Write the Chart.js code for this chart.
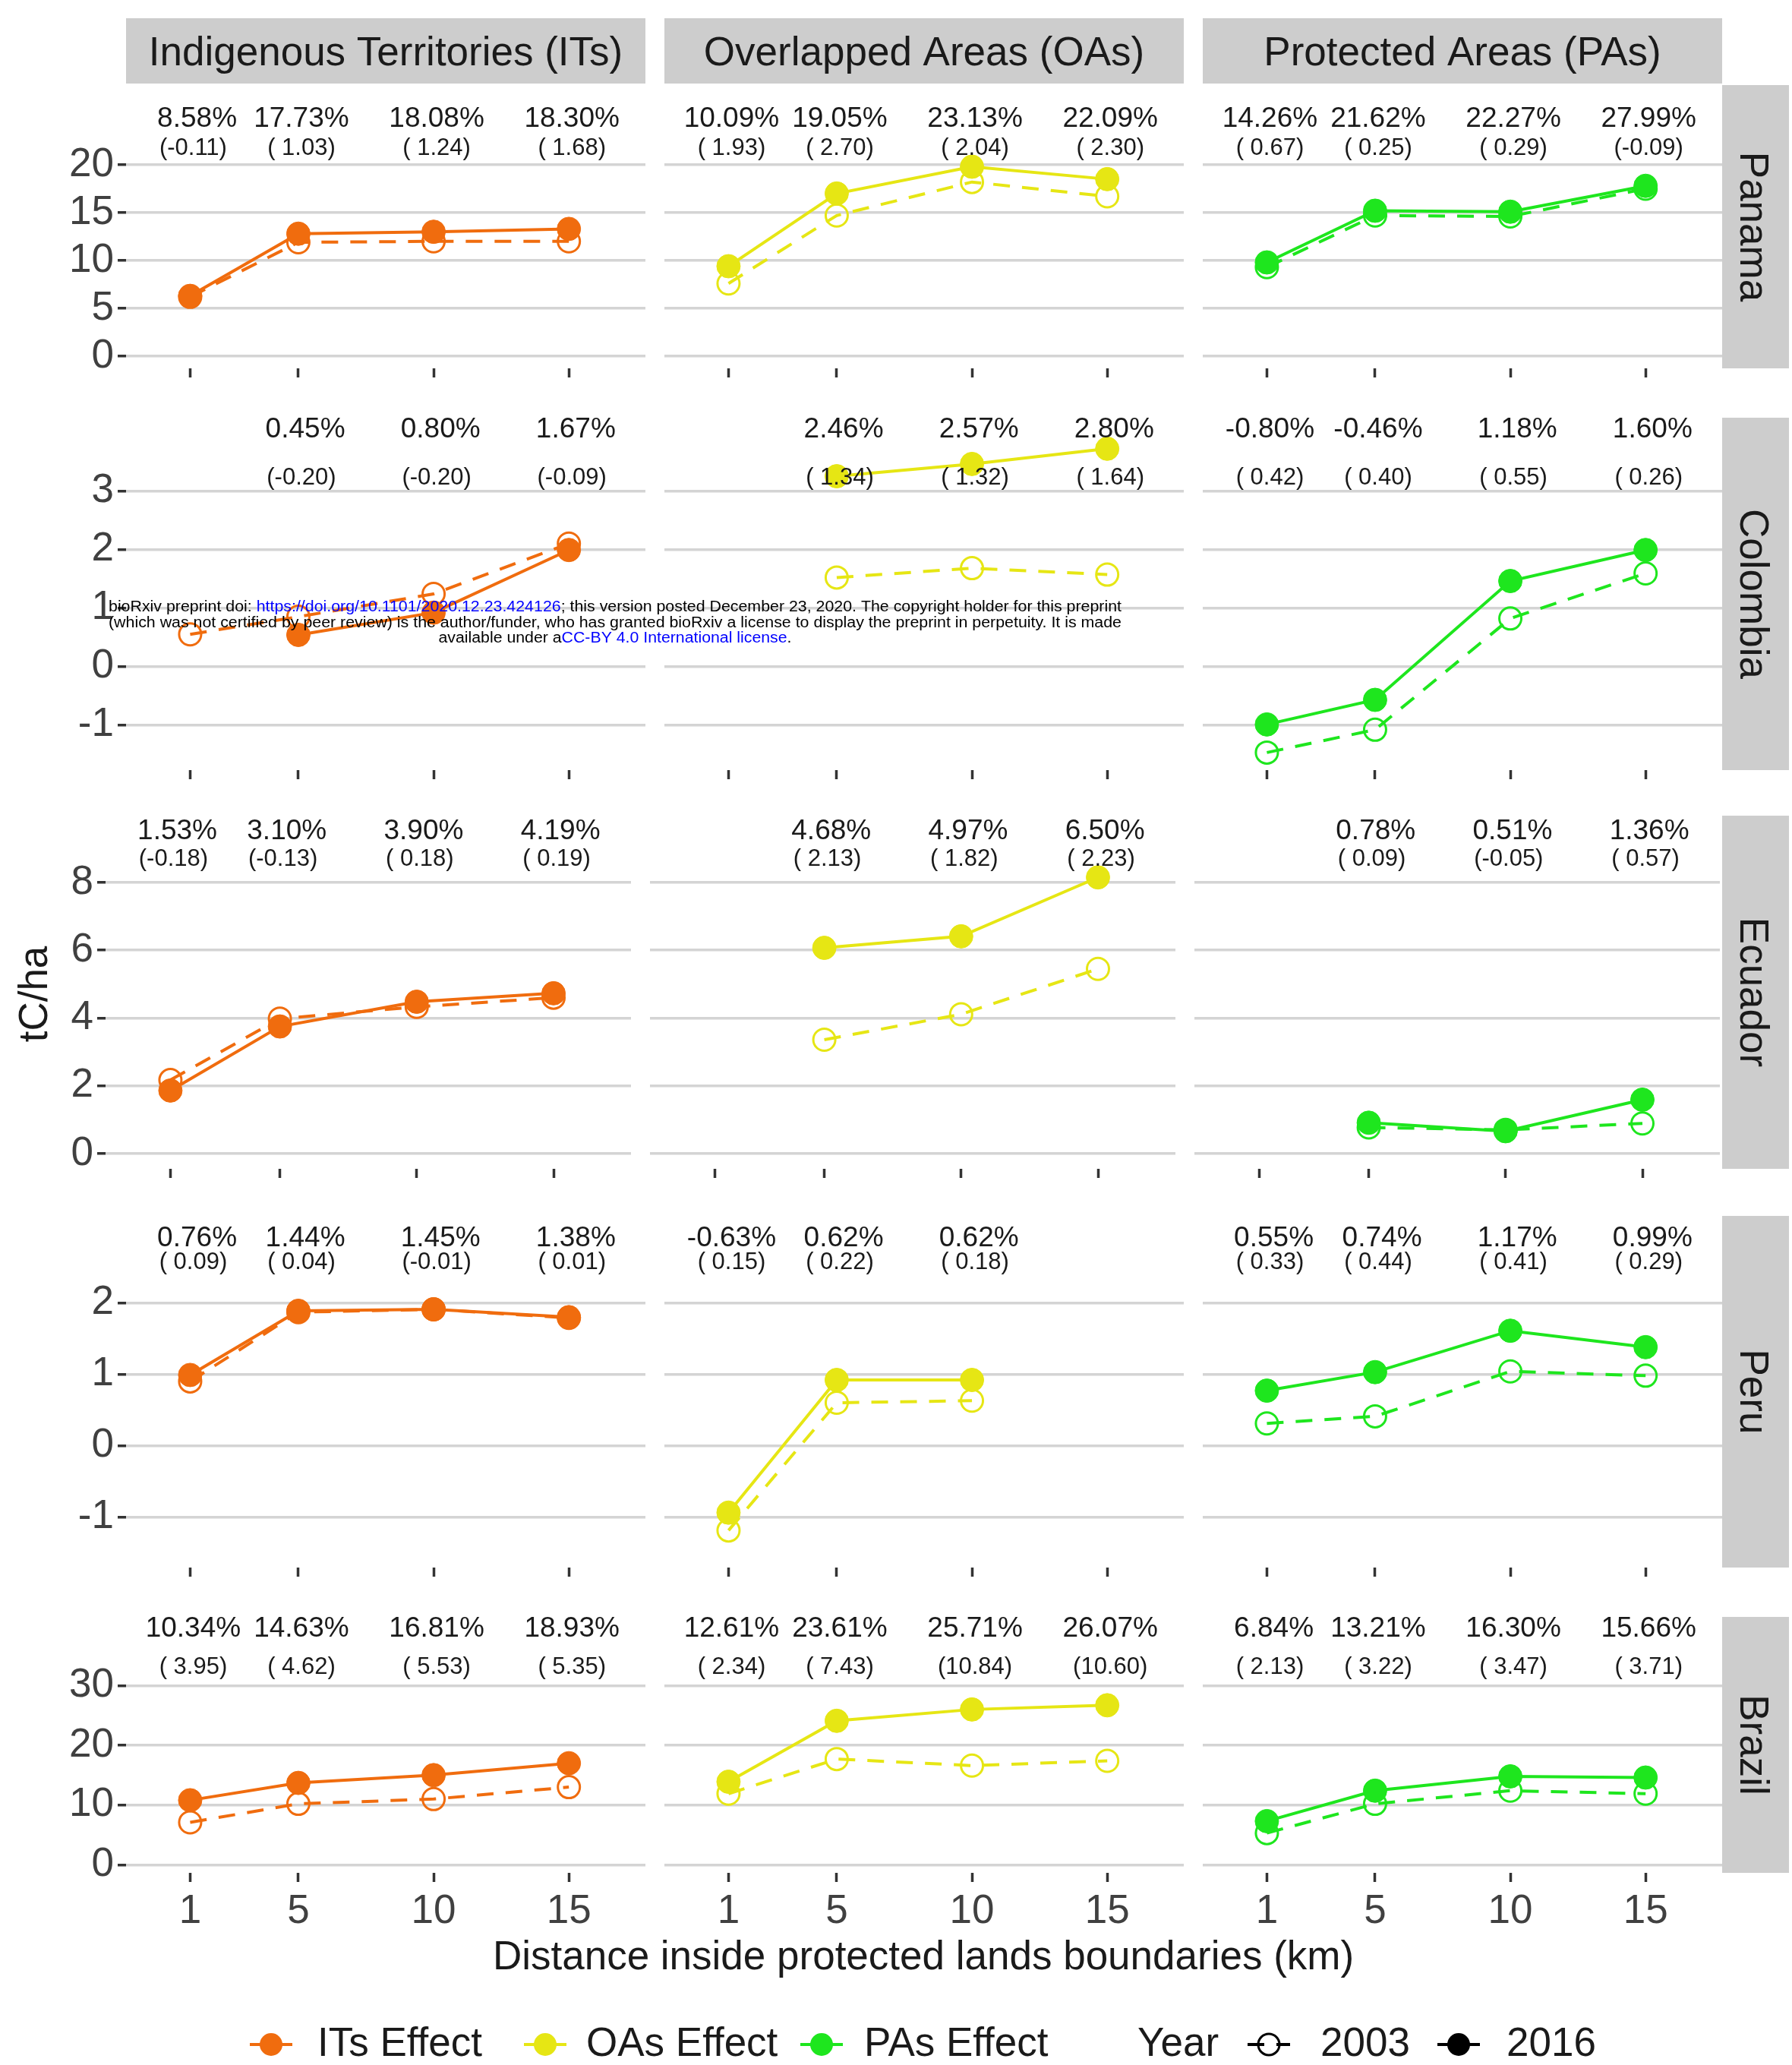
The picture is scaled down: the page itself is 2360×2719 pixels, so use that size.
<!DOCTYPE html>
<html>
<head>
<meta charset="utf-8">
<title>Carbon effect inside protected lands</title>
<script src="https://cdn.jsdelivr.net/npm/chart.js@4.4.1/dist/chart.umd.min.js"></script>
<style>
  html, body { margin: 0; padding: 0; background: #ffffff; }
  #page { position: relative; width: 2360px; height: 2719px; overflow: hidden; background: #ffffff; }
  #page canvas { position: absolute; }
</style>
</head>
<body>
<div id="page"></div>
<script>
// ---------------- data ----------------
const distances = [1, 5, 10, 15];   // km inside the boundary
const landTypes = ['Indigenous Territories (ITs)', 'Overlapped Areas (OAs)', 'Protected Areas (PAs)'];
const effectNames = ['ITs Effect', 'OAs Effect', 'PAs Effect'];
const countries = ['Panama', 'Colombia', 'Ecuador', 'Peru', 'Brazil'];
const yearNames = ['2003', '2016'];
const xAxisTitle = 'Distance inside protected lands boundaries (km)';
const yAxisTitle = 'tC/ha';

// carbon effect in tC/ha; inner arrays are ITs, OAs, PAs
const panama2016 = [[6.3, 12.8, 13.0, 13.3], [9.4, 17.0, 19.8, 18.5], [9.8, 15.2, 15.1, 17.8]];
const panama2003 = [[6.2, 11.9, 12.0, 12.0], [7.6, 14.7, 18.2, 16.7], [9.3, 14.7, 14.6, 17.5]];
const panamaPct  = [[8.58, 17.73, 18.08, 18.30], [10.09, 19.05, 23.13, 22.09], [14.26, 21.62, 22.27, 27.99]];
const panamaSE   = [[-0.11, 1.03, 1.24, 1.68], [1.93, 2.70, 2.04, 2.30], [0.67, 0.25, 0.29, -0.09]];
const panamaTicks = [0, 5, 10, 15, 20];

const colombia2016 = [[null, 0.54, 0.92, 1.99], [null, 3.25, 3.46, 3.72], [-0.99, -0.57, 1.46, 1.99]];
const colombia2003 = [[0.55, 0.85, 1.24, 2.10], [null, 1.52, 1.68, 1.57], [-1.47, -1.08, 0.82, 1.59]];
const colombiaPct  = [[null, 0.45, 0.80, 1.67], [null, 2.46, 2.57, 2.80], [-0.80, -0.46, 1.18, 1.60]];
const colombiaSE   = [[null, -0.20, -0.20, -0.09], [null, 1.34, 1.32, 1.64], [0.42, 0.40, 0.55, 0.26]];
const colombiaTicks = [-1, 0, 1, 2, 3];

const ecuador2016 = [[1.86, 3.75, 4.48, 4.73], [null, 6.07, 6.41, 8.15], [null, 0.91, 0.66, 1.59]];
const ecuador2003 = [[2.17, 3.98, 4.33, 4.60], [null, 3.36, 4.11, 5.45], [null, 0.77, 0.70, 0.89]];
const ecuadorPct  = [[1.53, 3.10, 3.90, 4.19], [null, 4.68, 4.97, 6.50], [null, 0.78, 0.51, 1.36]];
const ecuadorSE   = [[-0.18, -0.13, 0.18, 0.19], [null, 2.13, 1.82, 2.23], [null, 0.09, -0.05, 0.57]];
const ecuadorTicks = [0, 2, 4, 6, 8];

const peru2016 = [[0.99, 1.89, 1.91, 1.80], [-0.94, 0.92, 0.92, null], [0.77, 1.03, 1.61, 1.38]];
const peru2003 = [[0.90, 1.87, 1.91, 1.79], [-1.19, 0.60, 0.63, null], [0.31, 0.41, 1.04, 0.98]];
const peruPct  = [[0.76, 1.44, 1.45, 1.38], [-0.63, 0.62, 0.62, null], [0.55, 0.74, 1.17, 0.99]];
const peruSE   = [[0.09, 0.04, -0.01, 0.01], [0.15, 0.22, 0.18, null], [0.33, 0.44, 0.41, 0.29]];
const peruTicks = [-1, 0, 1, 2];

const brazil2016 = [[10.8, 13.7, 15.0, 17.0], [13.9, 24.1, 26.0, 26.7], [7.3, 12.4, 14.8, 14.6]];
const brazil2003 = [[7.1, 10.2, 11.0, 13.0], [11.9, 17.7, 16.6, 17.4], [5.3, 10.2, 12.4, 11.9]];
const brazilPct  = [[10.34, 14.63, 16.81, 18.93], [12.61, 23.61, 25.71, 26.07], [6.84, 13.21, 16.30, 15.66]];
const brazilSE   = [[3.95, 4.62, 5.53, 5.35], [2.34, 7.43, 10.84, 10.60], [2.13, 3.22, 3.47, 3.71]];
const brazilTicks = [0, 10, 20, 30];

const countrySeries = [
  { v2016: panama2016,   v2003: panama2003,   pct: panamaPct,   se: panamaSE,   ticks: panamaTicks },
  { v2016: colombia2016, v2003: colombia2003, pct: colombiaPct, se: colombiaSE, ticks: colombiaTicks },
  { v2016: ecuador2016,  v2003: ecuador2003,  pct: ecuadorPct,  se: ecuadorSE,  ticks: ecuadorTicks },
  { v2016: peru2016,     v2003: peru2003,     pct: peruPct,     se: peruSE,     ticks: peruTicks },
  { v2016: brazil2016,   v2003: brazil2003,   pct: brazilPct,   se: brazilSE,   ticks: brazilTicks },
];

// ---------------- layout & style ----------------
const FONT = '"Liberation Sans", Arial, Helvetica, sans-serif';
const effectColors = ['#F06C0E', '#E6E614', '#1EE61E'];
const gridColor = '#D4D4D4';
const stripColor = '#CDCDCD';
const textColor = '#1a1a1a';
const tickTextColor = '#404040';
const xRange = { min: -1.37, max: 17.83 };
const colGap = 25;
const stripX = 2268, stripW = 88;

// panel boxes (px) and the value range each row covers, plus where the annotations sit
const rowFrames = [
  { top: 112,  h: 373, left: 166, w: 684, yMin: -1.27, yMax: 28.33, pctY: 24.8, seY: 21.7 },
  { top: 550,  h: 464, left: 166, w: 684, yMin: -1.77, yMax: 4.25,  pctY: 4.04, seY: 3.22 },
  { top: 1074, h: 465, left: 139, w: 692, yMin: -0.45, yMax: 9.97,  pctY: 9.51, seY: 8.69 },
  { top: 1601, h: 463, left: 166, w: 684, yMin: -1.71, yMax: 3.22,  pctY: 2.90, seY: 2.57 },
  { top: 2129, h: 337, left: 166, w: 684, yMin: -1.36, yMax: 41.5,  pctY: 39.5, seY: 33.1 },
];

const fmtPct = v => v.toFixed(2).padStart(5, ' ') + '%';
const fmtSE  = v => '(' + v.toFixed(2).padStart(5, ' ') + ')';

// percentage and bracketed value above each distance
const effectLabels = {
  id: 'effectLabels',
  afterDatasetsDraw(chart, args, o) {
    const { ctx } = chart;
    const x = chart.scales.x, y = chart.scales.y;
    ctx.save();
    ctx.fillStyle = textColor;
    ctx.textAlign = 'center';
    ctx.textBaseline = 'middle';
    distances.forEach((d, i) => {
      const px = x.getPixelForValue(d) + 4;
      if (o.pct[i] != null) {
        ctx.font = `37px ${FONT}`;
        ctx.fillText(fmtPct(o.pct[i]), px, y.getPixelForValue(o.pctY));
      }
      if (o.se[i] != null) {
        ctx.font = `31px ${FONT}`;
        ctx.fillText(fmtSE(o.se[i]), px, y.getPixelForValue(o.seY));
      }
    });
    ctx.restore();
  }
};

const page = document.getElementById('page');
const toPoints = vals => distances.map((d, i) => ({ x: d, y: vals[i] }));

function makePanel(r, c) {
  const f = rowFrames[r];
  const s = countrySeries[r];
  const firstCol = c === 0;
  const lastRow = r === rowFrames.length - 1;
  const L = firstCol ? 120 : 0;
  const B = lastRow ? 95 : 16;
  const left = f.left + c * (f.w + colGap);
  const color = effectColors[c];

  const cv = document.createElement('canvas');
  cv.width = f.w + L;
  cv.height = f.h + B;
  cv.style.left = (left - L) + 'px';
  cv.style.top = f.top + 'px';
  page.appendChild(cv);

  new Chart(cv, {
    type: 'line',
    data: {
      datasets: [
        {
          label: yearNames[1],
          data: toPoints(s.v2016[c]),
          borderColor: color, backgroundColor: color,
          borderWidth: 4,
          pointRadius: 15.5, pointBorderWidth: 1,
          pointBackgroundColor: color, pointBorderColor: color,
          clip: false
        },
        {
          label: yearNames[0],
          data: toPoints(s.v2003[c]),
          borderColor: color, backgroundColor: 'rgba(0,0,0,0)',
          borderWidth: 4, borderDash: [22, 16],
          pointRadius: 14.5, pointBorderWidth: 3,
          pointBackgroundColor: 'rgba(0,0,0,0)', pointBorderColor: color,
          clip: false
        }
      ]
    },
    options: {
      responsive: false,
      animation: false,
      devicePixelRatio: 1,
      layout: { padding: 0, autoPadding: false },
      events: [],
      plugins: {
        legend: { display: false },
        tooltip: { enabled: false },
        effectLabels: { pct: s.pct[c], se: s.se[c], pctY: f.pctY, seY: f.seY }
      },
      scales: {
        x: {
          type: 'linear', min: xRange.min, max: xRange.max,
          afterBuildTicks: sc => { sc.ticks = distances.map(v => ({ value: v })); },
          afterFit: sc => { sc.height = B; sc.paddingLeft = 0; sc.paddingRight = 0; },
          border: { display: false },
          grid: { drawOnChartArea: false, drawTicks: true, tickLength: 12, tickColor: '#333333', tickWidth: 3.5 },
          ticks: { display: lastRow, autoSkip: false, maxRotation: 0, padding: 8,
                   color: tickTextColor, font: { family: FONT, size: 53 } }
        },
        y: {
          type: 'linear', min: f.yMin, max: f.yMax,
          afterBuildTicks: sc => { sc.ticks = s.ticks.map(v => ({ value: v })); },
          afterFit: sc => { sc.width = L; sc.paddingTop = 0; sc.paddingBottom = 0; },
          border: { display: false },
          grid: { color: gridColor, lineWidth: 3.5, drawTicks: firstCol, tickLength: 11,
                  tickColor: '#333333', tickWidth: 3.5 },
          ticks: { display: firstCol, autoSkip: false, padding: 5,
                   color: tickTextColor, font: { family: FONT, size: 53 } }
        }
      }
    },
    plugins: [effectLabels]
  });
}

for (let r = 0; r < rowFrames.length; r++) {
  for (let c = 0; c < landTypes.length; c++) makePanel(r, c);
}

// ---------------- strips, titles, legend, stamp ----------------
const ov = document.createElement('canvas');
ov.width = 2360; ov.height = 2719;
ov.style.left = '0px'; ov.style.top = '0px'; ov.style.zIndex = 5;
page.appendChild(ov);
const g = ov.getContext('2d');

function text(str, x, y, size, opts = {}) {
  g.save();
  g.translate(x, y);
  if (opts.rot) g.rotate(opts.rot);
  g.font = `${size}px ${FONT}`;
  g.fillStyle = opts.color || textColor;
  g.textAlign = opts.align || 'center';
  g.textBaseline = 'middle';
  g.fillText(str, 0, 0);
  g.restore();
}

// column strips
const headFrame = rowFrames[0];
landTypes.forEach((name, c) => {
  const x0 = headFrame.left + c * (headFrame.w + colGap);
  g.fillStyle = stripColor;
  g.fillRect(x0, 24, headFrame.w, 86);
  text(name, x0 + headFrame.w / 2, 71, 53);
});

// row strips
countries.forEach((name, r) => {
  const f = rowFrames[r];
  g.fillStyle = stripColor;
  g.fillRect(stripX, f.top, stripW, f.h);
  text(name, stripX + 39, f.top + f.h / 2, 53, { rot: Math.PI / 2 });
});

// axis titles
text(yAxisTitle, 47, 1309, 53, { rot: -Math.PI / 2 });
text(xAxisTitle, 1216, 2578, 53);

// legend
const legY = 2692;
function key(xc, color, filled, dashed) {
  g.save();
  g.strokeStyle = color;
  g.lineWidth = 4;
  if (dashed) g.setLineDash([22, 16]);
  g.beginPath(); g.moveTo(xc - 28, legY); g.lineTo(xc + 28, legY); g.stroke();
  g.setLineDash([]);
  g.beginPath();
  if (filled) { g.fillStyle = color; g.arc(xc, legY, 15, 0, Math.PI * 2); g.fill(); }
  else { g.lineWidth = 3; g.arc(xc, legY, 14, 0, Math.PI * 2); g.stroke(); }
  g.restore();
}
const effectKeyX = [357, 718, 1082];
const effectTextX = [418, 772, 1138];
effectNames.forEach((n, i) => {
  key(effectKeyX[i], effectColors[i], true, false);
  text(n, effectTextX[i], legY, 53, { align: 'left' });
});
text('Year', 1498, legY, 53, { align: 'left' });
key(1671, '#000000', false, true);
text(yearNames[0], 1739, legY, 53, { align: 'left' });
key(1921, '#000000', true, false);
text(yearNames[1], 1984, legY, 53, { align: 'left' });

// preprint stamp
function runs(parts, cx, baseline, width) {
  g.save();
  g.font = `20px ${FONT}`;
  g.textAlign = 'left';
  g.textBaseline = 'alphabetic';
  const ws = parts.map(p => g.measureText(p[0]).width);
  const total = ws.reduce((a, b) => a + b, 0);
  g.translate(cx - width / 2, baseline);
  g.scale(width / total, 1);
  let xx = 0;
  parts.forEach((p, i) => { g.fillStyle = p[1]; g.fillText(p[0], xx, 0); xx += ws[i]; });
  g.restore();
}
const ink = '#000000', link = '#0000FF';
runs([['bioRxiv preprint doi: ', ink], ['https://doi.org/10.1101/2020.12.23.424126', link],
      ['; this version posted December 23, 2020. The copyright holder for this preprint', ink]], 810, 805, 1334);
runs([['(which was not certified by peer review) is the author/funder, who has granted bioRxiv a license to display the preprint in perpetuity. It is made', ink]], 810, 825.5, 1334);
runs([['available under a', ink], ['CC-BY 4.0 International license', link], ['.', ink]], 810, 846, 465);
</script>
</body>
</html>
